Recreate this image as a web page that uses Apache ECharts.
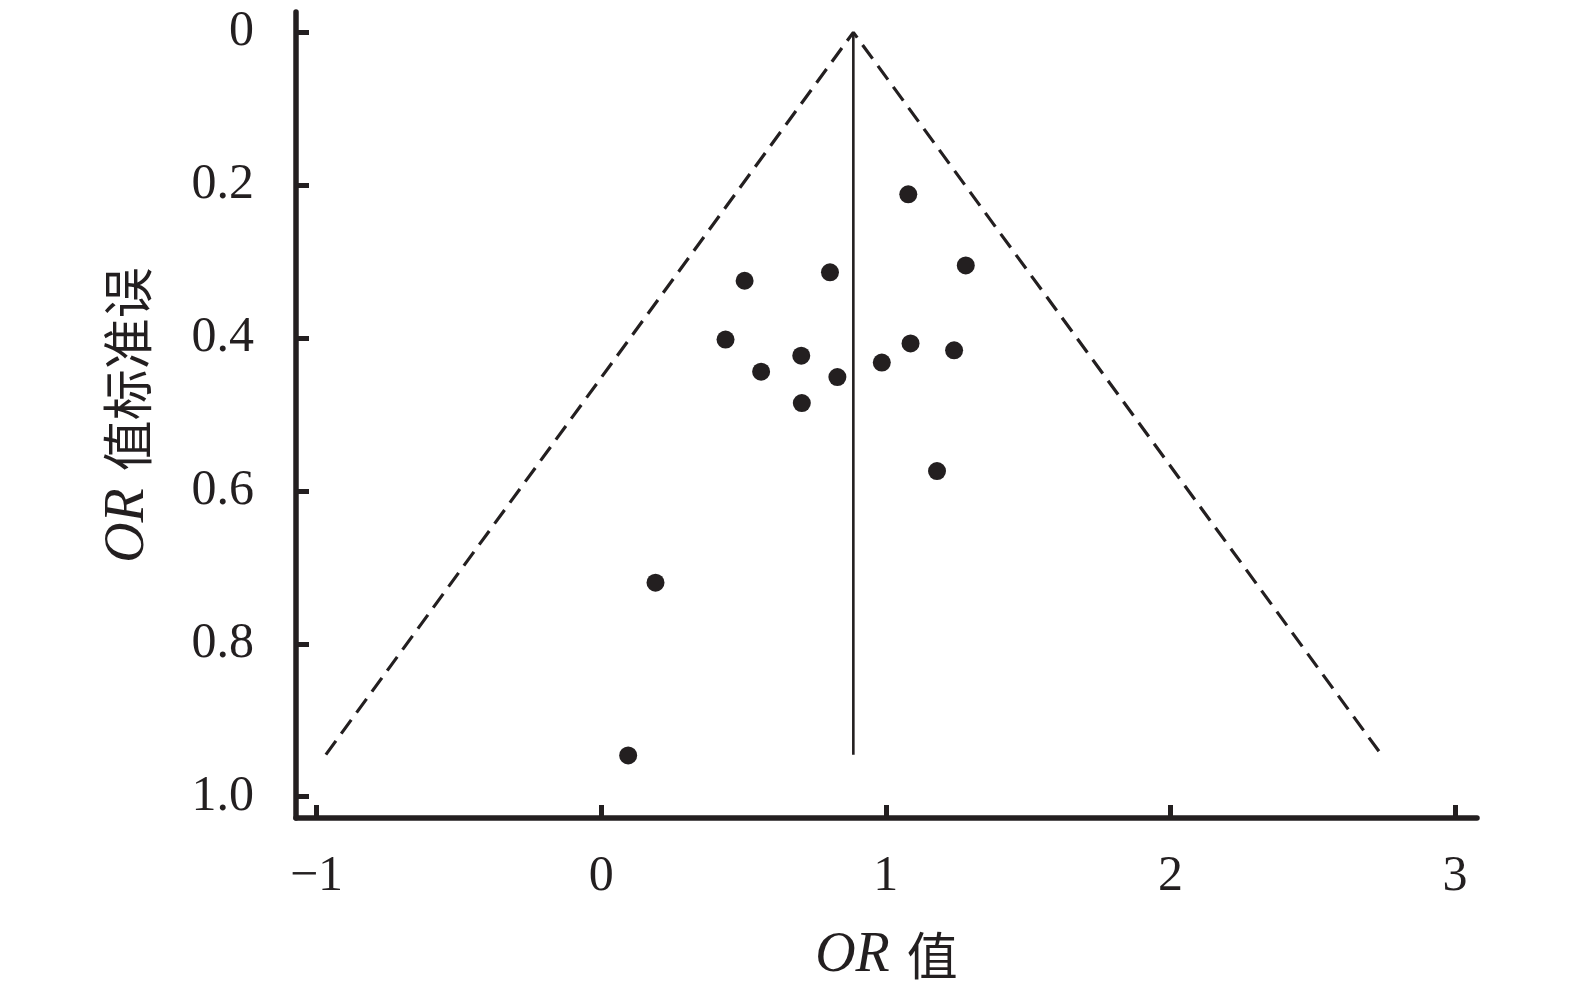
<!DOCTYPE html>
<html><head><meta charset="utf-8">
<script src="https://cdn.jsdelivr.net/npm/echarts@6/dist/echarts.min.js"></script>
<style>html,body{margin:0;padding:0;background:#fff}#c{width:1575px;height:1002px}</style>
</head><body><div id="c"></div>
<script>
// Study points: OR value (x) and its standard error (y)
const orValues = [1.079, 1.281, 0.804, 0.504, 0.437, 1.087, 1.240, 0.703, 0.986, 0.562, 0.830, 0.705, 1.180, 0.191, 0.095];
const seValues = [0.212, 0.305, 0.314, 0.325, 0.402, 0.407, 0.416, 0.423, 0.432, 0.444, 0.451, 0.485, 0.574, 0.720, 0.946];
// Funnel (pseudo 95% CI) outline and pooled estimate line
const funnelX = [-0.967, 0.886, 2.741];
const funnelY = [0.945, 0, 0.945];
const pooledX = [0.886, 0.886];
const pooledY = [0, 0.945];
// Tick labels
const xTicks = [-1, 0, 1, 2, 3];
const yTicks = [0, 0.2, 0.4, 0.6, 0.8, 1.0];
const xName = 'OR';
const xNameCn = '值';
const yNameCn = '值标准误';

const ink = '#231f20';
const serif = 'Liberation Serif';
const cjk = 'Noto Sans CJK SC';
const zip = (a, b) => a.map((v, i) => [v, b[i]]);

const richName = {
  i: {fontFamily: serif, fontStyle: 'italic', fontSize: 56, color: ink},
  c: {fontFamily: cjk, fontSize: 51, color: ink}
};

const chart = echarts.init(document.getElementById('c'), null, {renderer: 'canvas'});
chart.setOption({
  animation: false,
  backgroundColor: '#fff',
  grid: {left: 296, right: 98, top: 12, bottom: 184, containLabel: false, outerBoundsMode: 'none'},
  xAxis: {
    type: 'value', min: -1.072, max: 3.077,
    splitLine: {show: false},
    axisLine: {onZero: false, lineStyle: {color: ink, width: 5.5}},
    axisTick: {inside: true, length: 13, lineStyle: {color: ink, width: 5}, customValues: xTicks},
    axisLabel: {customValues: xTicks, margin: 34, color: ink, fontFamily: serif, fontSize: 50,
      formatter: v => String(v).replace('-', '\u2212')},
    name: '{i|' + xName + '}{c|\u2004' + xNameCn + '}',
    nameLocation: 'middle', nameGap: 110,
    nameTextStyle: {rich: richName}
  },
  yAxis: {
    type: 'value', inverse: true, min: -0.0266, max: 1.0279,
    splitLine: {show: false},
    axisLine: {onZero: false, lineStyle: {color: ink, width: 5.5}},
    axisTick: {inside: true, length: 13, lineStyle: {color: ink, width: 5}, customValues: yTicks},
    axisLabel: {customValues: yTicks, margin: 42, color: ink, fontFamily: serif, fontSize: 50,
      formatter: v => v === 0 ? '0' : v.toFixed(1)},
    name: '{i|' + xName + '}{c|\u2004' + yNameCn + '}',
    nameLocation: 'middle', nameGap: 140, nameRotate: 90,
    nameTextStyle: {rich: richName}
  },
  series: [
    {type: 'line', data: zip(funnelX, funnelY), symbol: 'none', silent: true,
      lineStyle: {color: ink, width: 3.2, type: [17, 9]}},
    {type: 'line', data: zip(pooledX, pooledY), symbol: 'none', silent: true,
      lineStyle: {color: ink, width: 2.6}},
    {type: 'scatter', data: zip(orValues, seValues), symbol: 'circle', symbolSize: 18,
      itemStyle: {color: ink, opacity: 1}}
  ]
});
</script></body></html>
